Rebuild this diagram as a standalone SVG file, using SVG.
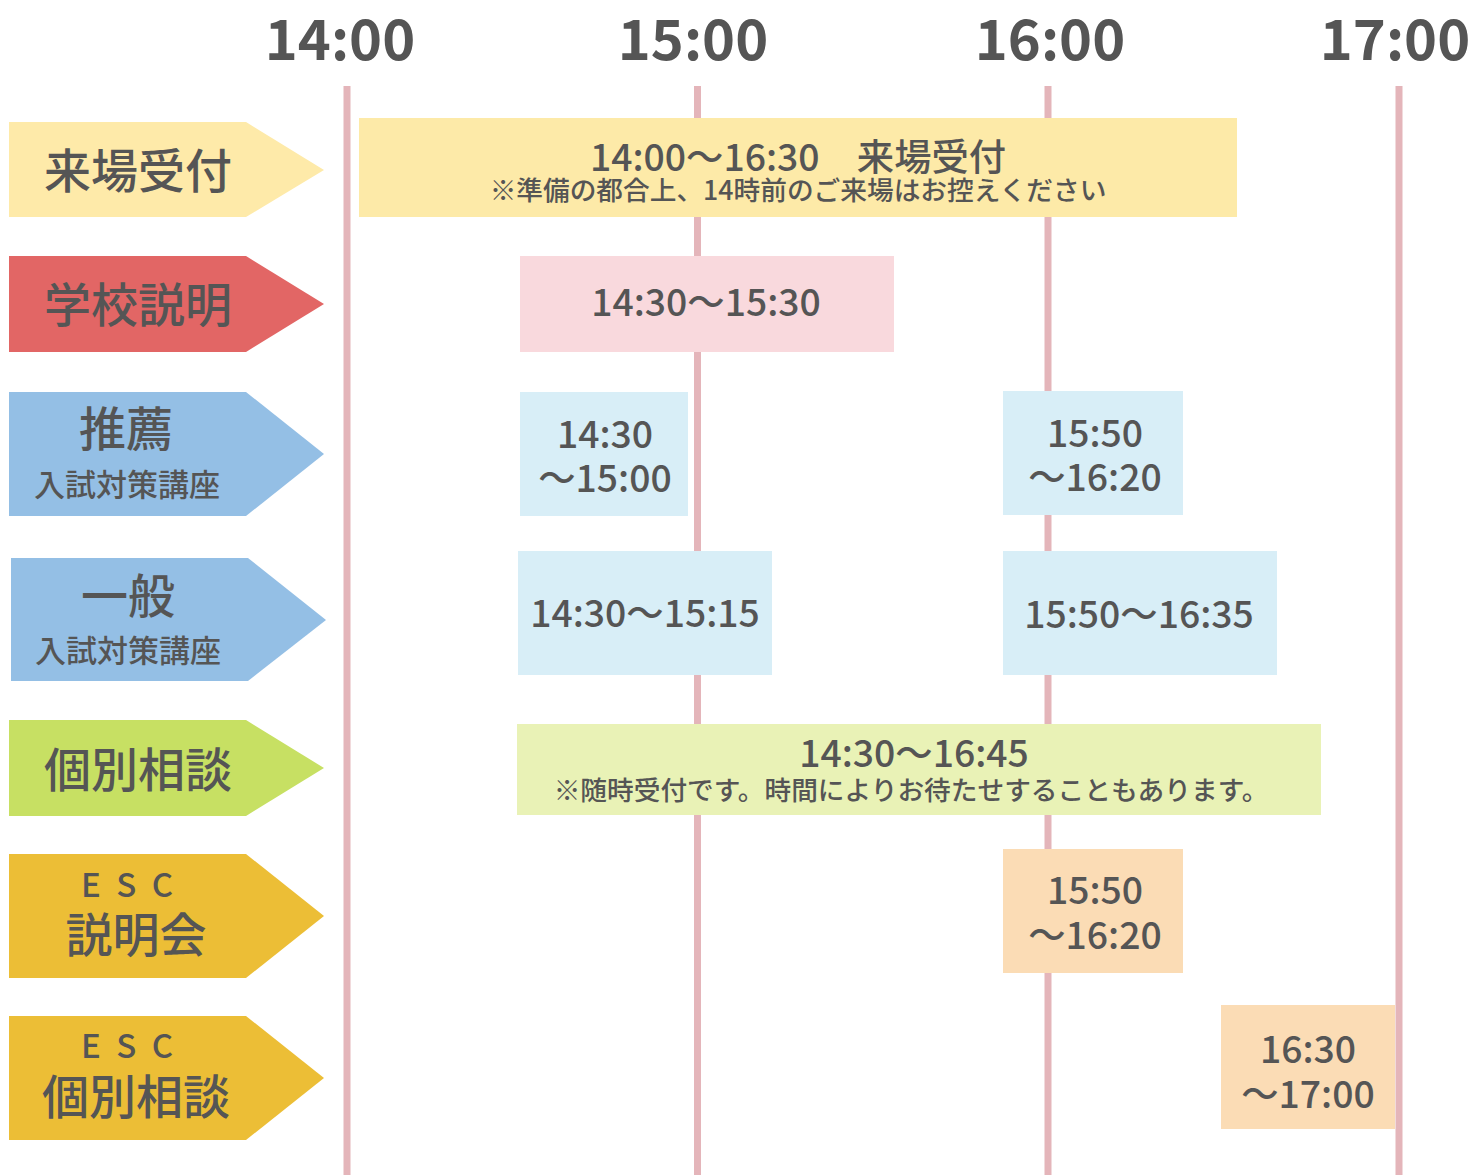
<svg xmlns="http://www.w3.org/2000/svg" width="1470" height="1175" viewBox="0 0 1470 1175">
<style>
text{font-family:"Noto Sans CJK JP","Noto Sans",sans-serif;fill:#555555;text-anchor:middle;font-weight:500}
.hd{font-size:56px;font-weight:bold}
.lb{font-size:47px}
.sm{font-size:31px}
.esc{font-size:33px;letter-spacing:4px}
.tm{font-size:37.3px}
.nt{font-size:26.7px}
.line{stroke:#e4b5ba;stroke-width:7}
</style>
<rect width="1470" height="1175" fill="#ffffff"/>
<g id="timeaxis">
<text class="hd" x="340" y="60">14:00</text>
<text class="hd" x="693" y="60">15:00</text>
<text class="hd" x="1050" y="60">16:00</text>
<text class="hd" x="1395" y="60">17:00</text>
</g>
<g id="connectors">
<line class="line" x1="347" y1="86" x2="347" y2="1175"/>
<line class="line" x1="697.5" y1="86" x2="697.5" y2="1175"/>
<line class="line" x1="1048" y1="86" x2="1048" y2="1175"/>
<line class="line" x1="1399" y1="86" x2="1399" y2="1175"/>
</g>
<g id="label-uketsuke">
<polygon points="9,122 246,122 324,170 246,217 9,217" fill="#feeaa9"/>
<text class="lb" x="138" y="188">来場受付</text>
</g>
<g id="label-gakkou">
<polygon points="9,256 246,256 324,304 246,352 9,352" fill="#e26665"/>
<text class="lb" x="138" y="322">学校説明</text>
</g>
<g id="label-suisen">
<polygon points="9,392 246,392 324,454 246,516 9,516" fill="#94bfe5"/>
<text class="lb" x="126" y="446">推薦</text>
<text class="sm" x="127" y="496">入試対策講座</text>
</g>
<g id="label-ippan">
<polygon points="11,558 248,558 326,620 248,681 11,681" fill="#94bfe5"/>
<text class="lb" x="128" y="613">一般</text>
<text class="sm" x="128" y="662">入試対策講座</text>
</g>
<g id="label-kobetsu">
<polygon points="9,720 246,720 324,768 246,816 9,816" fill="#c7e063"/>
<text class="lb" x="138" y="787">個別相談</text>
</g>
<g id="label-esc-setsumei">
<polygon points="9,854 246,854 324,916 246,978 9,978" fill="#ecbe36"/>
<text class="esc" x="129" y="897">E S C</text>
<text class="lb" x="136" y="952">説明会</text>
</g>
<g id="label-esc-kobetsu">
<polygon points="9,1016 246,1016 324,1078 246,1140 9,1140" fill="#ecbe36"/>
<text class="esc" x="129" y="1058">E S C</text>
<text class="lb" x="136" y="1114">個別相談</text>
</g>
<g id="box-uketsuke">
<rect x="359" y="118" width="878" height="99" fill="#fdeaa8"/>
<text class="tm" x="798" y="171">14:00〜16:30　来場受付</text>
<text class="nt" x="798" y="200">※準備の都合上、14時前のご来場はお控えください</text>
</g>
<g id="box-gakkou">
<rect x="520" y="256" width="374" height="96" fill="#f9d9dd"/>
<text class="tm" x="706" y="316">14:30〜15:30</text>
</g>
<g id="box-suisen-1">
<rect x="520" y="392" width="168" height="124" fill="#d8eef7"/>
<text class="tm" x="605" y="448">14:30</text>
<text class="tm" x="605" y="492">〜15:00</text>
</g>
<g id="box-suisen-2">
<rect x="1003" y="391" width="180" height="124" fill="#d8eef7"/>
<text class="tm" x="1095" y="447">15:50</text>
<text class="tm" x="1095" y="491">〜16:20</text>
</g>
<g id="box-ippan-1">
<rect x="518" y="551" width="254" height="124" fill="#d8eef7"/>
<text class="tm" x="645" y="627">14:30〜15:15</text>
</g>
<g id="box-ippan-2">
<rect x="1003" y="551" width="274" height="124" fill="#d8eef7"/>
<text class="tm" x="1139" y="628">15:50〜16:35</text>
</g>
<g id="box-kobetsu">
<rect x="517" y="724" width="804" height="91" fill="#e9f2b6"/>
<text class="tm" x="914" y="767">14:30〜16:45</text>
<text class="nt" x="911" y="800" style="font-size:26.7px">※随時受付です。時間によりお待たせすることもあります。</text>
</g>
<g id="box-esc-setsumei">
<rect x="1003" y="849" width="180" height="124" fill="#fbdcb5"/>
<text class="tm" x="1095" y="904">15:50</text>
<text class="tm" x="1095" y="949">〜16:20</text>
</g>
<g id="box-esc-kobetsu">
<rect x="1221" y="1005" width="174" height="124" fill="#fbdcb5"/>
<text class="tm" x="1308" y="1063">16:30</text>
<text class="tm" x="1308" y="1108">〜17:00</text>
</g>
</svg>
